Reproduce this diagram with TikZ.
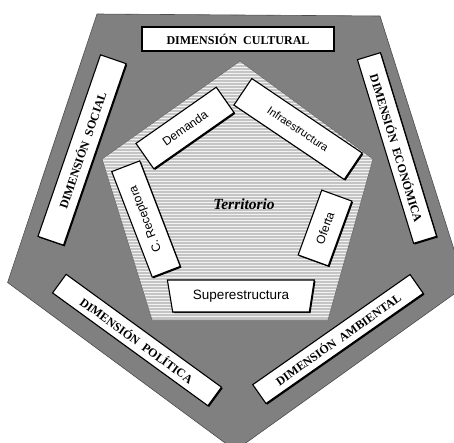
\documentclass[tikz,border=0pt]{standalone}
\usepackage{fontspec}
\setmainfont{Liberation Serif}
\newfontfamily\arialf{Liberation Sans}
\usetikzlibrary{shapes.geometric,shadows}
\definecolor{outergray}{RGB}{128,128,128}
\definecolor{hatchlight}{RGB}{242,242,242}
\definecolor{hatchdark}{RGB}{196,196,196}
\tikzset{
  dimbox/.style={draw=black, line width=1.1pt, fill=white, inner sep=0pt,
    minimum width=192pt, minimum height=24pt,
    font=\fontsize{12}{14}\selectfont\bfseries,
    drop shadow={shadow xshift=1.2pt, shadow yshift=-1.2pt, fill=black, opacity=1}},
  inbox/.style={draw=black, line width=1.1pt, fill=white, inner sep=0pt,
    minimum height=31pt, font=\arialf\fontsize{12}{14}\selectfont,
    drop shadow={shadow xshift=1.2pt, shadow yshift=-1.2pt, fill=black, opacity=1}},
}
\begin{document}
\begin{tikzpicture}[x=1pt,y=-1pt]
\useasboundingbox (0,0) rectangle (454,442);
\clip (0,0) rectangle (454,442);
% outer pentagon (regular, partly cut by the picture's edge)
\draw[fill=outergray, draw=black!70, line width=0.6pt]
  (97,14) -- (380,16) -- (465.5,285.8) -- (235.3,450.5) -- (7.6,282.5) -- cycle;
% inner pentagon with horizontal hatching
\begin{scope}
  \path[clip] (240,61) -- (373,159) -- (328,320) -- (152,320) -- (102,159) -- cycle;
  \fill[hatchlight] (100,55) rectangle (380,325);
  \foreach \yy in {60,63,...,324} { \draw[hatchdark, line width=1.1pt] (100,\yy) -- (380,\yy); }
\end{scope}
\draw[draw=black!60, line width=0.6pt]
  (240,61) -- (373,159) -- (328,320) -- (152,320) -- (102,159) -- cycle;
% dimension boxes
\node[dimbox] (cultural) at (238,39) {DIMENSIÓN\ \ CULTURAL};
\node[dimbox, rotate=71, minimum height=27pt] (social) at (82,150) {DIMENSIÓN\ \ SOCIAL};
\node[dimbox, rotate=-73] (economica) at (397,148) {DIMENSIÓN\ \ ECONÓMICA};
\node[dimbox, rotate=-36, minimum height=23pt] (politica) at (137,340) {DIMENSIÓN\ \ POLÍTICA};
\node[dimbox, rotate=35, minimum height=23pt] (ambiental) at (338,339) {DIMENSIÓN\ \ AMBIENTAL};
% inner boxes
\node[inbox, rotate=35, minimum width=98pt] (demanda) at (185,128) {Demanda};
\node[inbox, rotate=-34, minimum width=133pt, minimum height=32pt, font=\arialf\fontsize{11}{13}\selectfont] (infra) at (298,129) {Infraestructura};
\node[inbox, rotate=70, minimum width=69pt, minimum height=32pt] (oferta) at (325,228) {Oferta};
\node[inbox, rotate=111, minimum width=113pt, minimum height=30pt] (receptora) at (146,219) {C. Receptora};
\node[trapezium, shape border rotate=180, trapezium left angle=74, trapezium right angle=73,
  trapezium stretches=true, draw=black, line width=1.1pt, fill=white, inner sep=0pt,
  minimum width=147pt, minimum height=32pt, font=\arialf\fontsize{13.5}{15}\selectfont,
  drop shadow={shadow xshift=1.2pt, shadow yshift=-1.2pt, fill=black, opacity=1}]
  (super) at (241,296) {Superestructura};
% centre label
\node[font=\fontsize{15.5}{18}\selectfont\bfseries\itshape] (territorio) at (244,204) {Territorio};
\end{tikzpicture}
\end{document}
